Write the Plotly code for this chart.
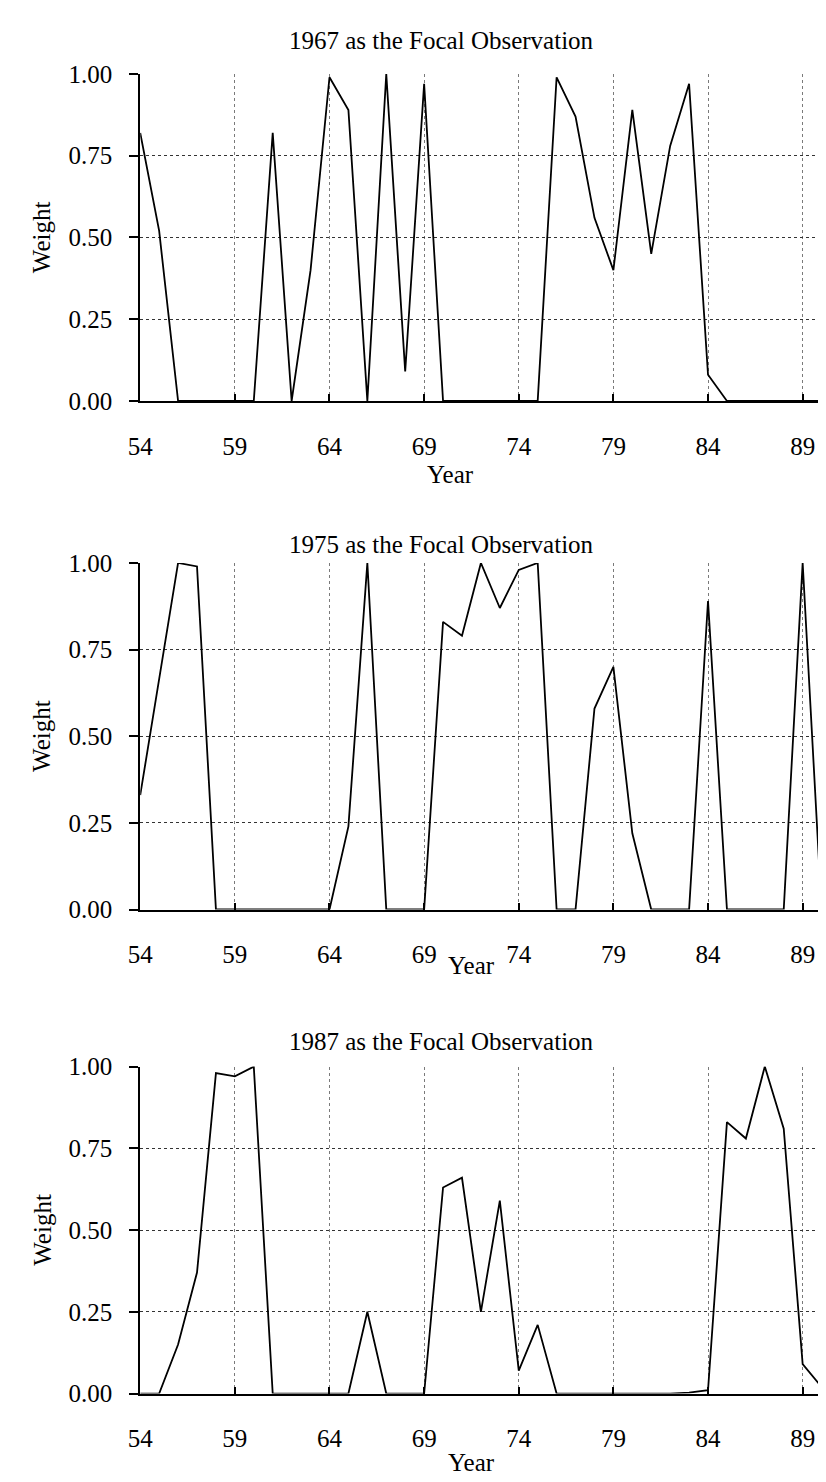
import plotly.graph_objects as go

# ---------------- data ----------------
years = list(range(54, 91))

w1967 = [0.82, 0.52, 0.00, 0.00, 0.00, 0.00, 0.00, 0.82, 0.00, 0.40,
         0.99, 0.89, 0.00, 1.00, 0.09, 0.97, 0.00, 0.00, 0.00, 0.00,
         0.00, 0.00, 0.99, 0.87, 0.56, 0.40, 0.89, 0.45, 0.78, 0.97,
         0.08, 0.00, 0.00, 0.00, 0.00, 0.00, 0.00]

w1975 = [0.33, 0.66, 1.00, 0.99, 0.00, 0.00, 0.00, 0.00, 0.00, 0.00,
         0.00, 0.24, 1.00, 0.00, 0.00, 0.00, 0.83, 0.79, 1.00, 0.87,
         0.98, 1.00, 0.00, 0.00, 0.58, 0.70, 0.22, 0.00, 0.00, 0.00,
         0.89, 0.00, 0.00, 0.00, 0.00, 1.00, 0.00]

w1987 = [0.00, 0.00, 0.15, 0.37, 0.98, 0.97, 1.00, 0.00, 0.00, 0.00,
         0.00, 0.00, 0.25, 0.00, 0.00, 0.00, 0.63, 0.66, 0.25, 0.59,
         0.07, 0.21, 0.00, 0.00, 0.00, 0.00, 0.00, 0.00, 0.00, 0.003,
         0.01, 0.83, 0.78, 1.00, 0.81, 0.09, 0.02]

series = [w1967, w1975, w1987]
titles = ["1967 as the Focal Observation",
          "1975 as the Focal Observation",
          "1987 as the Focal Observation"]
x_tickvals = [54, 59, 64, 69, 74, 79, 84, 89]
x_ticktext = ["54", "59", "64", "69", "74", "79", "84", "89"]
y_tickvals = [0, 0.25, 0.5, 0.75, 1.0]
y_ticktext = ["0.00", "0.25", "0.50", "0.75", "1.00"]
x_title = "Year"
y_title = "Weight"

# ---------------- layout (pixels) ----------------
W, H = 826, 1482
def fx(x): return x / W
def fy(y): return 1 - y / H

plot_left, plot_right = 122, 823
panels_px = [(54, 387), (552, 905), (1065, 1398)]   # (top, bottom) of plot areas
title_y = [20, 533, 1039]
title_x = [428, 428, 428]
year_y = [462, 962, 1468]
year_x = [437, 458, 458]
FS = 25

FONT = "Liberation Serif, Times New Roman, serif"
fig = go.Figure()
annotations = []
layout = dict(
    width=W, height=H,
    margin=dict(l=0, r=0, t=0, b=0),
    paper_bgcolor="white", plot_bgcolor="white",
    showlegend=False,
    font=dict(family=FONT, size=FS, color="black"),
)

for i, (vals, (top, bot)) in enumerate(zip(series, panels_px)):
    n = "" if i == 0 else str(i + 1)
    fig.add_trace(go.Scatter(
        x=years, y=vals, mode="lines",
        line=dict(color="black", width=1.8),
        xaxis="x" + n, yaxis="y" + n, cliponaxis=False,
        hoverinfo="skip"))
    layout["xaxis" + n] = dict(
        domain=[fx(plot_left), fx(plot_right)],
        range=[54, 90.5], anchor="y" + n,
        tickmode="array", tickvals=x_tickvals, ticktext=x_ticktext,
        ticks="inside", ticklen=7, tickcolor="black", tickwidth=1.5,
        showline=True, linecolor="black", linewidth=1.8,
        showgrid=True, gridcolor="#7a7a7a", griddash="dot", gridwidth=1,
        zeroline=False, ticklabelstandoff=22,
        tickfont=dict(family=FONT, size=FS, color="black"),
    )
    layout["yaxis" + n] = dict(
        domain=[fy(bot), fy(top)],
        range=[0, 1.0], anchor="x" + n,
        tickmode="array", tickvals=y_tickvals, ticktext=y_ticktext,
        ticks="outside", ticklen=9, tickcolor="black", tickwidth=1.5,
        showline=True, linecolor="black", linewidth=1.8,
        showgrid=True, gridcolor="#333333", griddash="dot", gridwidth=1,
        zeroline=False, ticklabelstandoff=12,
        tickfont=dict(family=FONT, size=FS, color="black"),
    )
    annotations.append(dict(
        text=titles[i], x=fx(title_x[i]), y=fy(title_y[i]),
        xref="paper", yref="paper", xanchor="center", yanchor="middle",
        showarrow=False, font=dict(family=FONT, size=FS, color="black")))
    annotations.append(dict(
        text=x_title, x=fx(year_x[i]), y=fy(year_y[i]),
        xref="paper", yref="paper", xanchor="center", yanchor="middle",
        showarrow=False, font=dict(family=FONT, size=FS, color="black")))
    annotations.append(dict(
        text=y_title, x=fx(22), y=fy((top + bot) / 2),
        xref="paper", yref="paper", xanchor="center", yanchor="middle",
        textangle=-90, showarrow=False,
        font=dict(family=FONT, size=FS, color="black")))

layout["annotations"] = annotations
fig.update_layout(**layout)
fig.write_html("out.html")
